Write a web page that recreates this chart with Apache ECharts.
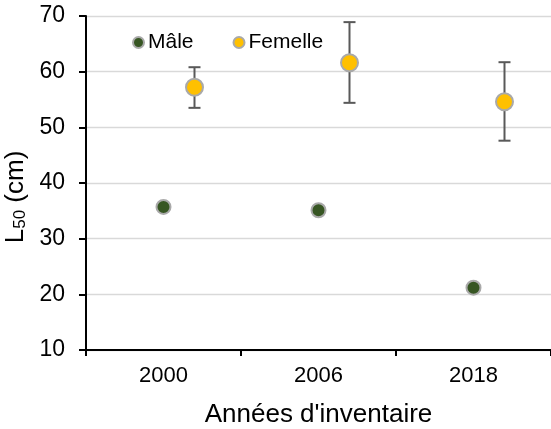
<!DOCTYPE html>
<html>
<head>
<meta charset="utf-8">
<script src="https://cdn.jsdelivr.net/npm/echarts@6/dist/echarts.min.js"></script>
<style>html,body{margin:0;padding:0;background:#fff;}#c{width:551px;height:429px;}</style>
</head>
<body>
<div id="c"></div>
<script>
var categories = ['2000', '2006', '2018'];
var maleValues = [35.7, 35.1, 21.2];
var femaleValues = [57.2, 61.6, 54.6];
var femaleLow = [53.5, 54.4, 47.6];
var femaleHigh = [60.8, 68.9, 61.7];
var yTicks = {min: 10, max: 70, interval: 10};

var FEMALE_OFFSET = 31;
var FONT = 'Liberation Sans, Arial, sans-serif';

var errData = categories.map(function (c, i) { return [i, femaleLow[i], femaleHigh[i]]; });

var chart = echarts.init(document.getElementById('c'), null, {renderer: 'canvas'});
chart.setOption({
  animation: false,
  backgroundColor: '#fff',
  textStyle: {fontFamily: FONT},
  grid: {left: 86, right: 0, top: 16, bottom: 79, containLabel: false, outerBoundsMode: 'none'},
  legend: {
    left: 127, top: 27, itemWidth: 11, itemHeight: 11, itemGap: 39,
    icon: 'circle',
    textStyle: {fontFamily: FONT, fontSize: 21, color: '#000', padding: [0, 0, 0, -1]},
    data: ['Mâle', 'Femelle']
  },
  xAxis: {
    type: 'category', data: categories, boundaryGap: true,
    axisLine: {lineStyle: {color: '#000', width: 2}},
    axisTick: {show: true, length: 6, lineStyle: {color: '#000', width: 2}},
    axisLabel: {fontFamily: FONT, fontSize: 22, color: '#000', margin: 15},
    name: "Années d'inventaire", nameLocation: 'middle', nameGap: 52,
    nameTextStyle: {fontFamily: FONT, fontSize: 26, color: '#000'}
  },
  yAxis: {
    type: 'value', min: yTicks.min, max: yTicks.max, interval: yTicks.interval,
    axisLine: {show: true, lineStyle: {color: '#000', width: 2}},
    axisTick: {show: true, length: 7, lineStyle: {color: '#000', width: 2}},
    axisLabel: {fontFamily: FONT, fontSize: 23, color: '#000', margin: 21},
    splitLine: {show: true, lineStyle: {color: '#d9d9d9', width: 1.3}},
    name: '{l|L}{s|50}{l| (cm)}', nameLocation: 'middle', nameGap: 53,
    nameTextStyle: {
      fontFamily: FONT, color: '#000', padding: [0, 28, 0, 0],
      rich: {
        l: {fontFamily: FONT, fontSize: 26, color: '#000'},
        s: {fontFamily: FONT, fontSize: 17, color: '#000', verticalAlign: 'bottom', padding: [9, 0, 0, 0]}
      }
    }
  },
  series: [
    {
      name: 'errors', type: 'custom', data: errData, z: 2,
      renderItem: function (params, api) {
        var i = api.value(0);
        var lo = api.coord([i, api.value(1)]);
        var hi = api.coord([i, api.value(2)]);
        var x = lo[0] + FEMALE_OFFSET;
        var half = 6;
        var st = {stroke: '#595959', lineWidth: 2};
        return {
          type: 'group',
          children: [
            {type: 'line', shape: {x1: x, y1: lo[1], x2: x, y2: hi[1]}, style: st},
            {type: 'line', shape: {x1: x - half, y1: hi[1], x2: x + half, y2: hi[1]}, style: st},
            {type: 'line', shape: {x1: x - half, y1: lo[1], x2: x + half, y2: lo[1]}, style: st}
          ]
        };
      }
    },
    {
      name: 'Mâle', type: 'scatter', data: maleValues, symbol: 'circle', symbolSize: 14, z: 3,
      itemStyle: {color: '#375623', borderColor: '#a9a9a9', borderWidth: 2, opacity: 1}
    },
    {
      name: 'Femelle', type: 'scatter', data: femaleValues, symbol: 'circle', symbolSize: 17,
      symbolOffset: [FEMALE_OFFSET, 0], z: 4,
      itemStyle: {color: '#ffc000', borderColor: '#a9a9a9', borderWidth: 2, opacity: 1}
    }
  ]
});
</script>
</body>
</html>
